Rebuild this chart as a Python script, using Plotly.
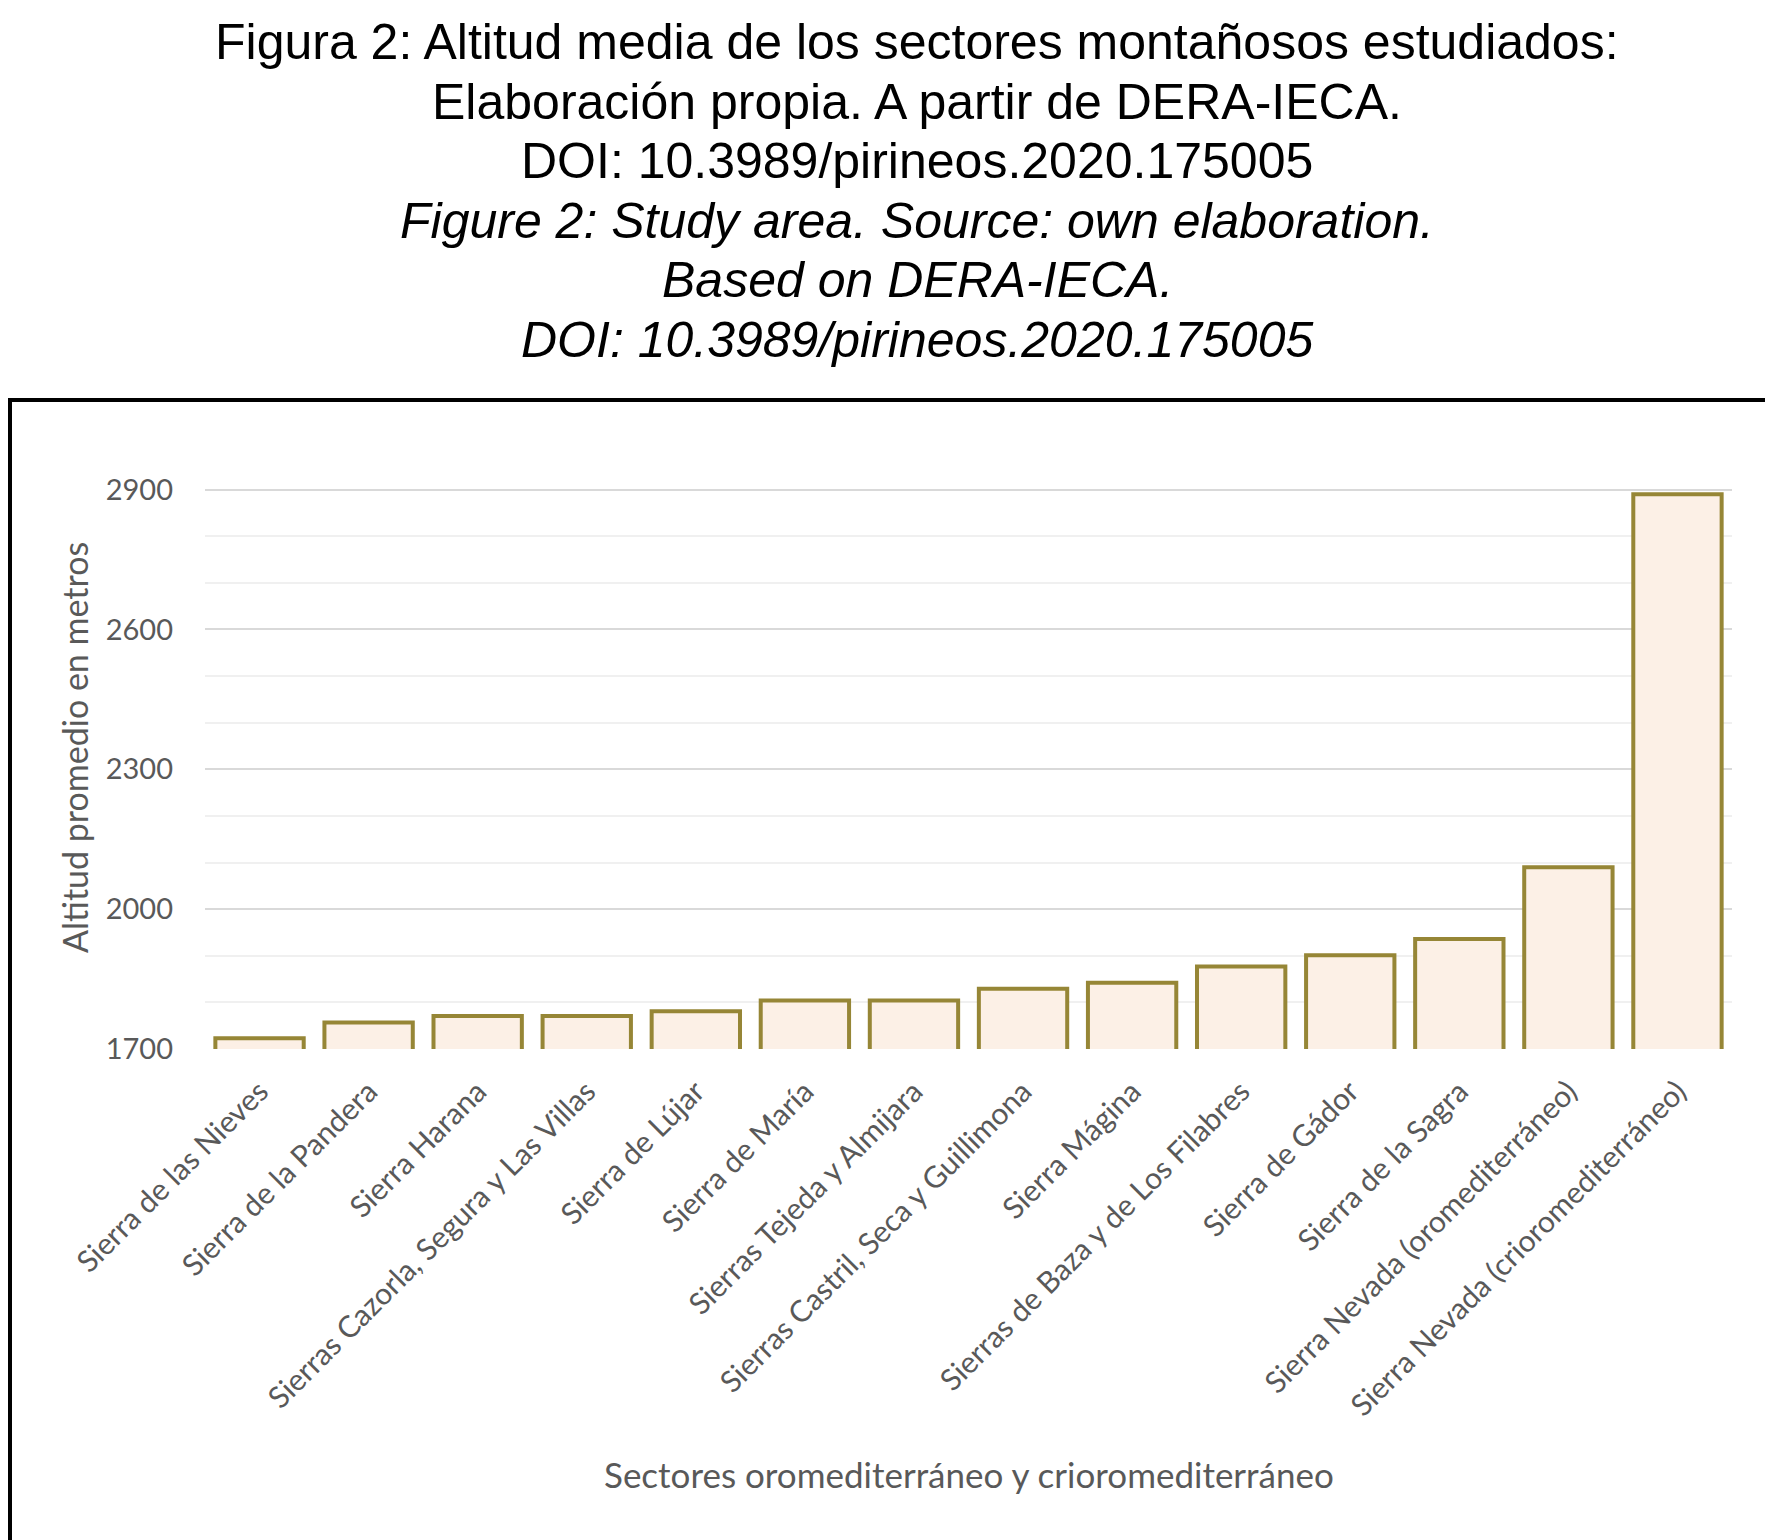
import plotly.graph_objects as go

# datos
sectores = [
    "Sierra de las Nieves",
    "Sierra de la Pandera",
    "Sierra Harana",
    "Sierras Cazorla, Segura y Las Villas",
    "Sierra de Lújar",
    "Sierra de María",
    "Sierras Tejeda y Almijara",
    "Sierras Castril, Seca y Guillimona",
    "Sierra Mágina",
    "Sierras de Baza y de Los Filabres",
    "Sierra de Gádor",
    "Sierra de la Sagra",
    "Sierra Nevada (oromediterráneo)",
    "Sierra Nevada (crioromediterráneo)",
]
altitud = [1723, 1757, 1771, 1771, 1781, 1804, 1804, 1829, 1842, 1877, 1901, 1936, 2090, 2890]

y_ticks = [1700, 2000, 2300, 2600, 2900]

titulo_lineas = [
    "Figura 2: Altitud media de los sectores montañosos estudiados:",
    "Elaboración propia. A partir de DERA-IECA.",
    "DOI: 10.3989/pirineos.2020.175005",
    "<i>Figure 2: Study area. Source: own elaboration.</i>",
    "<i>Based on DERA-IECA.</i>",
    "<i>DOI: 10.3989/pirineos.2020.175005</i>",
]

gris = "#595959"
fuente = "Lato"

# márgenes en píxeles
W, H = 1773, 1540
L, R, T, B = 197, 49, 435, 499
PW, PH = W - L - R, H - T - B


def px_x(x):
    # píxel -> coordenada paper
    return (x - L) / PW


def px_y(y):
    return (H - B - y) / PH


fig = go.Figure()
fig.add_trace(go.Bar(
    x=sectores,
    y=altitud,
    marker=dict(color="#FCF0E6", line=dict(color="#968636", width=4)),
))

fig.update_layout(
    width=W,
    height=H,
    margin=dict(l=L, r=R, t=T, b=B),
    paper_bgcolor="white",
    plot_bgcolor="white",
    bargap=0.19,
    showlegend=False,
    font=dict(family=fuente, color=gris),
)

fig.update_yaxes(
    range=[1700, 3000],
    tickvals=y_ticks,
    automargin=False,
    showgrid=True,
    gridcolor="#D9D9D9",
    gridwidth=2,
    zeroline=False,
    showline=False,
    tickfont=dict(size=29, color=gris, family=fuente),
    ticklabelstandoff=31,
    minor=dict(tickvals=list(range(1700, 3001, 100)), showgrid=True,
               gridcolor="#F0F0F0", gridwidth=2),
)
fig.update_xaxes(
    tickangle=-45,
    automargin=False,
    tickfont=dict(size=30, color=gris, family=fuente),
    showline=False,
    showgrid=False,
    ticklabelstandoff=18,
)

# títulos de ejes
fig.add_annotation(
    text="Altitud promedio en metros", xref="paper", yref="paper",
    x=px_x(66), y=px_y(740), xanchor="center", yanchor="middle",
    textangle=-90, showarrow=False,
    font=dict(size=34, color=gris, family=fuente),
)
fig.add_annotation(
    text="Sectores oromediterráneo y crioromediterráneo", xref="paper", yref="paper",
    x=px_x(961), y=px_y(1466), xanchor="center", yanchor="middle", showarrow=False,
    font=dict(size=35, color=gris, family=fuente),
)

# título de la figura, una anotación por línea
for i, linea in enumerate(titulo_lineas):
    fig.add_annotation(
        text=linea, xref="paper", yref="paper",
        x=px_x(909), y=px_y(34 + i * 59.6), xanchor="center", yanchor="middle",
        showarrow=False,
        font=dict(size=50, color="black", family="Liberation Sans"),
    )

# marco negro del gráfico
fig.add_shape(
    type="rect", xref="paper", yref="paper",
    x0=px_x(2), x1=px_x(1790), y0=px_y(1545), y1=px_y(392),
    line=dict(color="black", width=4),
)

fig.write_html("out.html")
